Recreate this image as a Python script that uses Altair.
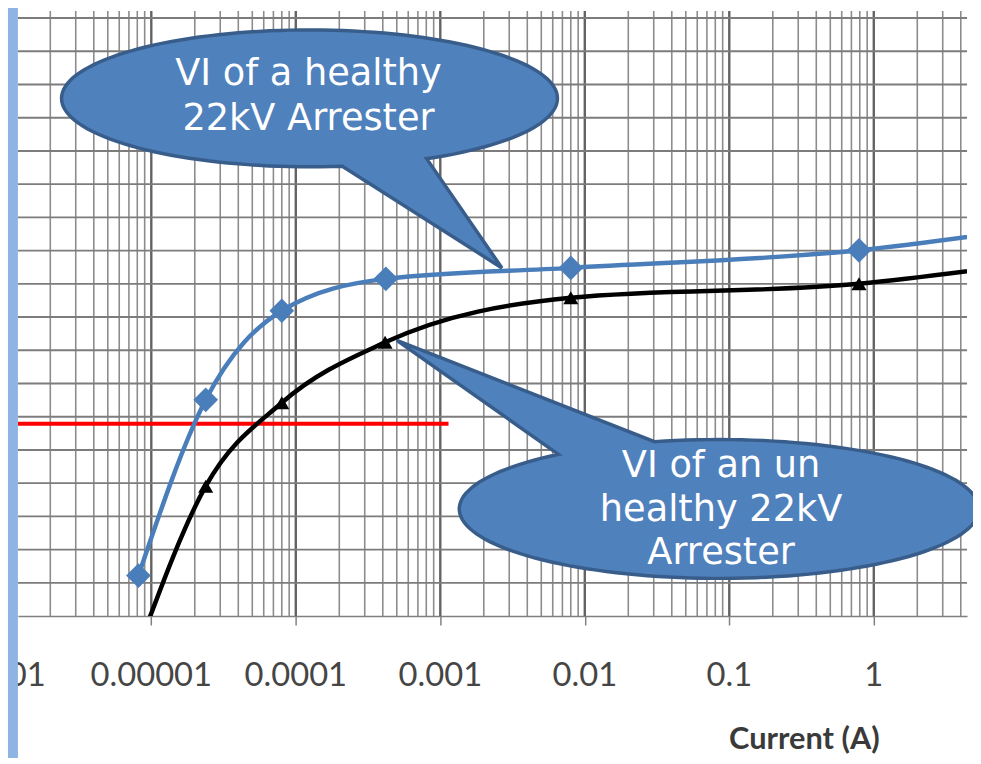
import altair as alt
import pandas as pd
import numpy as np

# ---------------- data ----------------
healthy_current = [8.15e-6, 2.38e-5, 8.0e-5, 4.2e-4, 8.0e-3, 0.79, 10.0]
healthy_voltage = [1.22, 6.51, 9.19, 10.15, 10.48, 11.01, 11.62]

unhealthy_current = [8.4e-6, 2.38e-5, 8.0e-5, 4.15e-4, 8.0e-3, 0.79, 10.0]
unhealthy_voltage = [-0.8, 3.91, 6.42, 8.24, 9.58, 10.0, 10.58]

red_current = [1.194e-6, 1.14e-3]
red_voltage = [5.79, 5.79]

tick_values = [1e-6, 1e-5, 1e-4, 1e-3, 1e-2, 1e-1, 1.0]
tick_labels = ["0.000001", "0.00001", "0.0001", "0.001", "0.01", "0.1", "1"]

callout_texts = ["VI of a healthy\n22kV Arrester", "VI of an un\nhealthy 22kV\nArrester"]
axis_title = "Current (A)"

# ---------------- scales ----------------
X_DOMAIN = [1.194e-6, 4.42]
Y_DOMAIN = [0, 18.21]
xscale = alt.Scale(type="log", domain=X_DOMAIN)
yscale = alt.Scale(domain=Y_DOMAIN)
xaxis = alt.Axis(values=tick_values[1:], labels=False, ticks=True, tickSize=9,
                 tickColor="#808080", tickWidth=1.5, domainColor="#808080",
                 domainWidth=1.5, grid=False, title=None)


def X(field):
    return alt.X(f"{field}:Q", scale=xscale, axis=xaxis)


def Y(field):
    return alt.Y(f"{field}:Q", scale=yscale, axis=None)


# grid positions
decades = [1e-6, 1e-5, 1e-4, 1e-3, 1e-2, 1e-1, 1.0]
minor = [m * d for d in decades for m in range(2, 10) if X_DOMAIN[0] <= m * d <= X_DOMAIN[1]]
major = [d for d in decades if X_DOMAIN[0] <= d <= X_DOMAIN[1]]
hgrid = list(range(1, 19))

minor_df = pd.DataFrame({"v": minor})
major_df = pd.DataFrame({"v": major})
h_df = pd.DataFrame({"h": hgrid})

g_minor = alt.Chart(minor_df).mark_rule(color="#8c8c8c", strokeWidth=1.6).encode(x=X("v"))
g_major = alt.Chart(major_df).mark_rule(color="#626262", strokeWidth=2.4).encode(x=X("v"))
g_h = alt.Chart(h_df).mark_rule(color="#7c7c7c", strokeWidth=1.9).encode(y=Y("h"))

red_df = pd.DataFrame({"c": red_current, "v": red_voltage})
red = alt.Chart(red_df).mark_line(color="#ff0000", strokeWidth=4, clip=True).encode(x=X("c"), y=Y("v"))

h_df2 = pd.DataFrame({"c": healthy_current, "v": healthy_voltage, "o": range(len(healthy_current))})
u_df2 = pd.DataFrame({"c": unhealthy_current, "v": unhealthy_voltage, "o": range(len(unhealthy_current))})

blue_line = alt.Chart(h_df2).mark_line(color="#4a7ebb", strokeWidth=4.5, interpolate="monotone", clip=True).encode(
    x=X("c"), y=Y("v"), order="o:Q")
blue_pts = alt.Chart(h_df2).mark_point(shape="diamond", size=620, filled=True, color="#4a7ebb",
                                        opacity=1, clip=True).encode(x=X("c"), y=Y("v"))
black_line = alt.Chart(u_df2).mark_line(color="#000000", strokeWidth=4.5, interpolate="monotone", clip=True).encode(
    x=X("c"), y=Y("v"), order="o:Q")
black_pts = alt.Chart(u_df2).mark_point(shape="triangle-up", size=230, filled=True, color="#000000",
                                         opacity=1, clip=True).encode(x=X("c"), y=Y("v"))


def callout_path(rx, ry, tip, t_a, t_b, n=140):
    pts = [tip]
    ts = np.linspace(np.radians(t_b), np.radians(t_a + 360), n)
    pts += [(rx * np.cos(t), ry * np.sin(t)) for t in ts]
    return "M" + " L".join(f"{x:.1f},{y:.1f}" for x, y in pts) + " Z"


one = pd.DataFrame({"a": [0]})
path1 = callout_path(250, 69, (194, 171), 61.8, 82.4)
path2 = callout_path(262, 70, (-325, -170), 231.8, 255.6)

bubble1 = alt.Chart(one).mark_point(shape=path1, size=4, filled=True, fill="#4f81bd", stroke="#385d8a",
                                    strokeWidth=3.5, opacity=1).encode(x=alt.value(294), y=alt.value(88))
bubble2 = alt.Chart(one).mark_point(shape=path2, size=4, filled=True, fill="#4f81bd", stroke="#385d8a",
                                    strokeWidth=3.5, opacity=1).encode(x=alt.value(707), y=alt.value(502))

t1 = alt.Chart(pd.DataFrame({"t": [callout_texts[0]]})).mark_text(
    font="DejaVu Sans", fontSize=37, color="white", lineBreak="\n", lineHeight=45,
    align="center", baseline="middle").encode(x=alt.value(293), y=alt.value(64), text="t:N")
t2 = alt.Chart(pd.DataFrame({"t": [callout_texts[1]]})).mark_text(
    font="DejaVu Sans", fontSize=37, color="white", lineBreak="\n", lineHeight=44,
    align="center", baseline="middle").encode(x=alt.value(709), y=alt.value(459), text="t:N")

lab_df = pd.DataFrame({"c": tick_values[1:], "t": tick_labels[1:]})
labels = alt.Chart(lab_df).mark_text(font="Lato", fontSize=33, color="#454545", baseline="middle",
                                     align="center").encode(x=X("c"), y=alt.value(671), text="t:N")
lab0 = alt.Chart(pd.DataFrame({"t": [tick_labels[0]]})).mark_text(
    font="Lato", fontSize=33, color="#454545", baseline="middle", align="right").encode(
    x=alt.value(28), y=alt.value(671), text="t:N")

title = alt.Chart(pd.DataFrame({"t": [axis_title]})).mark_text(
    font="Lato", fontSize=31, fontWeight="bold", color="#3a3a3a", baseline="middle", align="center").encode(
    x=alt.value(793), y=alt.value(735), text="t:N")

bar = alt.Chart(one).mark_rect(color="#8db4e2").encode(
    x=alt.value(-12), x2=alt.value(0), y=alt.value(-10), y2=alt.value(770))

chart = alt.layer(
    g_minor, g_major, g_h, red, blue_line, black_line, blue_pts, black_pts,
    bubble1, bubble2, t1, t2, labels, lab0, title, bar
).properties(
    width=957, height=610,
    padding={"left": 10, "top": 0, "right": 6, "bottom": 140},
    autosize=alt.AutoSizeParams(type="none"),
).configure_view(stroke=None)

chart.save("out.html", embed_options={"renderer": "svg", "actions": False})
